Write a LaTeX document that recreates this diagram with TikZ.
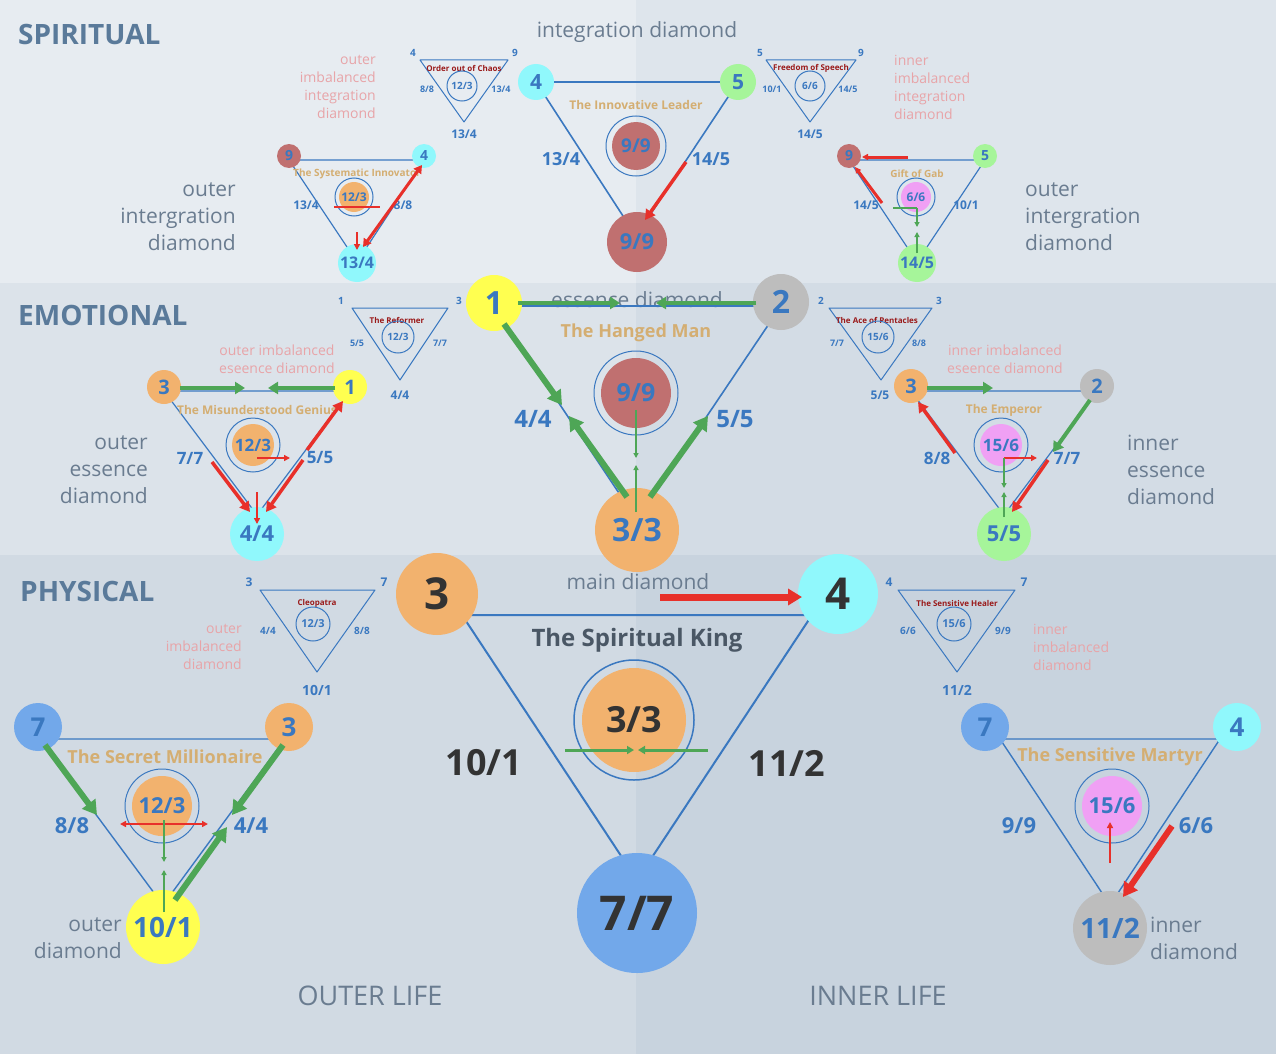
\documentclass[tikz,border=0pt]{standalone}
\usepackage{fontspec}
\setmainfont{Open Sans}
\usetikzlibrary{arrows.meta}
\definecolor{bgsa}{HTML}{E7ECF1}\definecolor{bgsb}{HTML}{DEE5EC}
\definecolor{bgea}{HTML}{DCE3EA}\definecolor{bgeb}{HTML}{D3DCE5}
\definecolor{bgpa}{HTML}{D1DAE3}\definecolor{bgpb}{HTML}{C8D3DE}
\definecolor{bl}{HTML}{3A78C0}\definecolor{tan}{HTML}{D4AE72}
\definecolor{dred}{HTML}{9A1A1A}\definecolor{pk}{HTML}{E8A4A8}
\definecolor{gt}{HTML}{6A7C90}\definecolor{hd}{HTML}{5A7A9A}
\definecolor{cor}{HTML}{F2B26E}\definecolor{ccy}{HTML}{90F8FC}
\definecolor{cgr}{HTML}{A6F59A}\definecolor{crd}{HTML}{C07070}
\definecolor{cye}{HTML}{FFFF50}\definecolor{cgy}{HTML}{BDBDBD}
\definecolor{cbl}{HTML}{72A8EA}\definecolor{cpk}{HTML}{F0A0F4}
\definecolor{ag}{HTML}{4EA656}\definecolor{ar}{HTML}{E8302A}
\newcommand{\fs}[1]{\fontsize{#1}{#1}\selectfont}
\newcommand{\fsl}[2]{\fontsize{#1}{#2}\selectfont}
\tikzset{
 tri/.style={draw=bl,line width=1.6pt,line join=round},
 stri/.style={draw=bl,line width=1pt,line join=round},
 dot/.style={circle,inner sep=0pt,minimum size=#1,text=bl,font=\bfseries},
 ring/.style={circle,draw=bl,line width=1pt,inner sep=0pt,minimum size=#1},
 lab/.style={text=bl,font=\bfseries\fs{#1},inner sep=0pt},
 ttl/.style={text=tan,font=\bfseries\fs{#1},inner sep=0pt},
 stl/.style={text=dred,font=\bfseries\fs{8},inner sep=0pt},
 gtx/.style={text=gt,inner sep=0pt,align=#1,font=\fsl{21}{27}},
 ptx/.style={text=pk,inner sep=0pt,align=#1,font=\fsl{14}{18}},
 head/.style={text=hd,font=\bfseries\fs{28},inner sep=0pt,anchor=west},
 ga/.style={draw=ag,line width=6pt,-{Triangle[length=14pt,width=16pt]}},
 ra/.style={draw=ar,line width=6pt,-{Triangle[length=14pt,width=16pt]}},
 gm/.style={draw=ag,line width=4pt,-{Triangle[length=10pt,width=12pt]}},
 rm/.style={draw=ar,line width=3.5pt,-{Triangle[length=10pt,width=11pt]}},
 gt2/.style={draw=ag,line width=2pt,-{Triangle[length=5pt,width=5pt]}},
 rt2/.style={draw=ar,line width=2pt,-{Triangle[length=6pt,width=6pt]}},
}
\begin{document}
\begin{tikzpicture}[x=1pt,y=-1pt]
\useasboundingbox (0,0) rectangle (1276,1054);
\fill[bgsa] (0,0) rectangle (636,283);\fill[bgsb] (636,0) rectangle (1276,283);
\fill[bgea] (0,283) rectangle (636,555);\fill[bgeb] (636,283) rectangle (1276,555);
\fill[bgpa] (0,555) rectangle (636,1054);\fill[bgpb] (636,555) rectangle (1276,1054);
% headings
\node[head] (hs) at (18,35) {SPIRITUAL};
\node[head] (he) at (18,315) {EMOTIONAL};
\node[head] (hp) at (20,591) {PHYSICAL};
\node[gtx=center] (t1) at (637,32) {integration diamond};
\node[gtx=center] (t2) at (637,300) {essence diamond};
\node[gtx=center] (t3) at (638,582) {main diamond};
\node[gtx=center,font=\fs{27}] (ol) at (370,996) {OUTER LIFE};
\node[gtx=center,font=\fs{27}] (il) at (878,996) {INNER LIFE};
\node[gtx=right,anchor=east] (s1) at (236,217) {outer\\intergration\\diamond};
\node[gtx=left,anchor=west] (s2) at (1025,217) {outer\\intergration\\diamond};
\node[gtx=right,anchor=east] (s3) at (148,470) {outer\\essence\\diamond};
\node[gtx=left,anchor=west] (s4) at (1127,470) {inner\\essence\\diamond};
\node[gtx=right,anchor=east] (s5) at (122,938) {outer\\diamond};
\node[gtx=left,anchor=west] (s6) at (1150,938) {inner\\diamond};
\node[ptx=right,anchor=east] (p1) at (376,87) {outer\\imbalanced\\integration\\diamond};
\node[ptx=left,anchor=west] (p2) at (894,87) {inner\\imbalanced\\integration\\diamond};
\node[ptx=center] (p3) at (277,359) {outer imbalanced\\eseence diamond};
\node[ptx=center] (p4) at (1005,359) {inner imbalanced\\eseence diamond};
\node[ptx=right,anchor=east] (p5) at (242,647) {outer\\imbalanced\\diamond};
\node[ptx=left,anchor=west] (p6) at (1033,647) {inner\\imbalanced\\diamond};
% Order out of Chaos
\draw[stri] (420,60) -- (508,60) -- (464,122) -- cycle;
\node[stl] (oc) at (464,68) {Order out of Chaos};
\node[ring=30pt,lab=10] (oc1) at (462,86) {12/3};
\node[lab=10] (oc2) at (413,53) {4};\node[lab=10] (oc3) at (515,53) {9};
\node[lab=9] (oc4) at (427,89) {8/8};\node[lab=9] (oc5) at (501,89) {13/4};
\node[lab=12] (oc6) at (464,134) {13/4};
% Freedom of Speech
\draw[stri] (766,60) -- (856,60) -- (810,122) -- cycle;
\node[stl] (fs) at (811,68) {Freedom of Speech};
\node[ring=30pt,lab=10] (fs1) at (810,86) {6/6};
\node[lab=10] (fs2) at (760,53) {5};\node[lab=10] (fs3) at (861,53) {9};
\node[lab=9] (fs4) at (772,89) {10/1};\node[lab=9] (fs5) at (848,89) {14/5};
\node[lab=12] (fs6) at (810,134) {14/5};
% The Reformer
\draw[stri] (352,308) -- (448,308) -- (400,380) -- cycle;
\node[stl] (rf) at (397,320) {The Reformer};
\node[ring=32pt,lab=10] (rf1) at (398,337) {12/3};
\node[lab=10] (rf2) at (341,301) {1};\node[lab=10] (rf3) at (459,301) {3};
\node[lab=9] (rf4) at (357,343) {5/5};\node[lab=9] (rf5) at (440,343) {7/7};
\node[lab=12] (rf6) at (400,395) {4/4};
% Ace of Pentacles
\draw[stri] (829,308) -- (932,308) -- (881,380) -- cycle;
\node[stl] (ap) at (877,320) {The Ace of Pentacles};
\node[ring=32pt,lab=10] (ap1) at (878,337) {15/6};
\node[lab=10] (ap2) at (821,301) {2};\node[lab=10] (ap3) at (939,301) {3};
\node[lab=9] (ap4) at (837,343) {7/7};\node[lab=9] (ap5) at (919,343) {8/8};
\node[lab=12] (ap6) at (880,395) {5/5};
% Cleopatra
\draw[stri] (260,590) -- (375,590) -- (317,672) -- cycle;
\node[stl] (cl) at (317,603) {Cleopatra};
\node[ring=34pt,lab=11] (cl1) at (313,624) {12/3};
\node[lab=12] (cl2) at (249,582) {3};\node[lab=12] (cl3) at (384,582) {7};
\node[lab=10] (cl4) at (268,631) {4/4};\node[lab=10] (cl5) at (362,631) {8/8};
\node[lab=14] (cl6) at (317,690) {10/1};
% Sensitive Healer
\draw[stri] (898,590) -- (1015,590) -- (957,672) -- cycle;
\node[stl] (sh) at (957,603) {The Sensitive Healer};
\node[ring=34pt,lab=11] (sh1) at (954,624) {15/6};
\node[lab=12] (sh2) at (889,582) {4};\node[lab=12] (sh3) at (1024,582) {7};
\node[lab=10] (sh4) at (908,631) {6/6};\node[lab=10] (sh5) at (1003,631) {9/9};
\node[lab=14] (sh6) at (957,690) {11/2};
% ---------- main spiritual ----------
\draw[tri] (536,82) -- (738,82) -- (636,236) -- cycle;
\node[ttl=12] (il1) at (636,105) {The Innovative Leader};
\node[ring=60pt] (r1) at (636,146) {};
\node[dot=48pt,fill=crd,font=\bfseries\fs{19}] (c91) at (636,146) {9/9};
\node[dot=36pt,fill=ccy,font=\bfseries\fs{21}] (c4a) at (536,82) {4};
\node[dot=36pt,fill=cgr,font=\bfseries\fs{21}] (c5a) at (738,82) {5};
\node[dot=60pt,fill=crd,font=\bfseries\fs{22}] (c92) at (637,242) {9/9};
\node[lab=18] (l1) at (561,159) {13/4};\node[lab=18] (l2) at (711,159) {14/5};
\draw[rm] (686,162) -- (645,220);
% outer integration
\draw[tri,line width=1.2pt] (289,160) -- (424,160) -- (357,262) -- cycle;
\node[ttl=10] (si) at (357,174) {The Systematic Innovator};
\node[ring=38pt] (r2) at (354,197) {};
\node[dot=30pt,fill=cor,font=\bfseries\fs{12}] (si1) at (354,197) {12/3};
\node[dot=24pt,fill=crd,font=\bfseries\fs{14}] (si2) at (289,156) {9};
\node[dot=24pt,fill=ccy,font=\bfseries\fs{14}] (si3) at (424,156) {4};
\node[dot=38pt,fill=ccy,font=\bfseries\fs{16}] (si4) at (357,263) {13/4};
\node[lab=12] (si5) at (306,205) {13/4};\node[lab=12] (si6) at (403,205) {8/8};
\draw[draw=ar,line width=3pt,{Triangle[length=8pt,width=9pt]}-{Triangle[length=8pt,width=9pt]}] (363,247) -- (422,165);
\draw[rt2] (357,232) -- (357,250);
\draw[draw=ar,line width=1.5pt] (334,207) -- (380,207);
% inner integration
\draw[tri,line width=1.2pt] (849,160) -- (985,160) -- (917,262) -- cycle;
\node[ttl=10] (gg) at (917,174) {Gift of Gab};
\node[ring=38pt] (r3) at (916,197) {};
\node[dot=30pt,fill=cpk,font=\bfseries\fs{12}] (gg1) at (916,197) {6/6};
\node[dot=24pt,fill=crd,font=\bfseries\fs{14}] (gg2) at (849,156) {9};
\node[dot=24pt,fill=cgr,font=\bfseries\fs{14}] (gg3) at (985,156) {5};
\node[dot=38pt,fill=cgr,font=\bfseries\fs{16}] (gg4) at (917,263) {14/5};
\node[lab=12] (gg5) at (866,205) {14/5};\node[lab=12] (gg6) at (966,205) {10/1};
\draw[rt2,line width=3pt] (908,157) -- (862,157);
\draw[rt2,line width=3pt] (882,203) -- (855,167);
\draw[draw=ag,line width=1.5pt] (893,208) -- (917,208);
\draw[gt2,line width=1.5pt] (917,208) -- (917,227);
\draw[gt2,line width=1.5pt] (917,253) -- (917,232);
% ---------- main emotional ----------
\draw[tri] (494,306) -- (781,306) -- (637,520) -- cycle;
\node[ttl=18] (hm) at (636,333) {The Hanged Man};
\node[ring=84pt] (r4) at (636,393) {};
\node[dot=70pt,fill=crd,font=\bfseries\fs{25}] (hm1) at (636,393) {9/9};
\node[dot=56pt,fill=cye,font=\bfseries\fs{32}] (hm2) at (494,303) {1};
\node[dot=56pt,fill=cgy,font=\bfseries\fs{32}] (hm3) at (781,302) {2};
\node[dot=84pt,fill=cor,font=\bfseries\fs{32}] (hm4) at (637,530) {3/3};
\node[lab=24] (hm5) at (533,419) {4/4};\node[lab=24] (hm6) at (735,419) {5/5};
\draw[gm] (518,303) -- (620,303);
\draw[gm] (756,303) -- (656,303);
\draw[ga] (504,324) -- (562,405);
\draw[ga] (627,497) -- (569,416);
\draw[ga] (650,497) -- (708,416);
\draw[gt2] (636,410) -- (636,458);
\draw[gt2] (636,512) -- (636,465);
% outer essence
\draw[tri,line width=1.2pt] (164,391) -- (350,391) -- (257,515) -- cycle;
\node[ttl=12] (mg) at (257,410) {The Misunderstood Genius};
\node[ring=54pt] (r5) at (253,445) {};
\node[dot=42pt,fill=cor,font=\bfseries\fs{17}] (mg1) at (253,445) {12/3};
\node[dot=34pt,fill=cor,font=\bfseries\fs{20}] (mg2) at (164,387) {3};
\node[dot=34pt,fill=cye,font=\bfseries\fs{20}] (mg3) at (350,387) {1};
\node[dot=54pt,fill=ccy,font=\bfseries\fs{22}] (mg4) at (257,534) {4/4};
\node[lab=17] (mg5) at (190,458) {7/7};\node[lab=17] (mg6) at (320,458) {5/5};
\draw[gm] (180,388) -- (245,388);
\draw[gm] (335,388) -- (268,388);
\draw[rm] (212,462) -- (250,512);
\draw[rm] (303,460) -- (266,512);
\draw[rm] (307,450) -- (343,401);
\draw[rt2] (257,492) -- (257,524);
\draw[rt2] (257,458) -- (290,458);
% inner essence
\draw[tri,line width=1.2pt] (911,391) -- (1097,391) -- (1004,515) -- cycle;
\node[ttl=12] (em) at (1004,410) {The Emperor};
\node[ring=54pt] (r6) at (1001,445) {};
\node[dot=42pt,fill=cpk,font=\bfseries\fs{17}] (em1) at (1001,445) {15/6};
\node[dot=34pt,fill=cor,font=\bfseries\fs{20}] (em2) at (911,386) {3};
\node[dot=34pt,fill=cgy,font=\bfseries\fs{20}] (em3) at (1097,386) {2};
\node[dot=54pt,fill=cgr,font=\bfseries\fs{22}] (em4) at (1004,534) {5/5};
\node[lab=17] (em5) at (937,458) {8/8};\node[lab=17] (em6) at (1067,458) {7/7};
\draw[gm] (927,388) -- (993,388);
\draw[rm] (955,453) -- (918,402);
\draw[gm] (1090,400) -- (1053,452);
\draw[rm] (1048,460) -- (1012,512);
\draw[rt2] (1004,458) -- (1037,458);
\draw[gt2] (1004,458) -- (1004,488);
\draw[gt2] (1004,517) -- (1004,492);
% ---------- main physical ----------
\draw[tri,line width=2pt] (462,615) -- (812,615) -- (637,880) -- cycle;
\node[text=gt!70!black,font=\bfseries\fs{24},inner sep=0pt] (sk) at (637,640) {The Spiritual King};
\node[ring=120pt,line width=1.5pt] (r7) at (634,720) {};
\node[dot=104pt,fill=cor,font=\bfseries\fs{36},text=black!80] (sk1) at (634,720) {3/3};
\node[dot=82pt,fill=cor,font=\bfseries\fs{44},text=black!80] (sk2) at (437,594) {3};
\node[dot=80pt,fill=ccy,font=\bfseries\fs{44},text=black!80] (sk3) at (838,594) {4};
\node[dot=120pt,fill=cbl,font=\bfseries\fs{48},text=black!80] (sk4) at (637,913) {7/7};
\node[lab=36,text=black!80] (sk5) at (484,763) {10/1};
\node[lab=36,text=black!80] (sk6) at (787,763) {11/2};
\draw[ra,line width=7pt] (660,597) -- (802,597);
\draw[draw=ag,line width=3pt,-{Triangle[length=7pt,width=8pt]}] (565,750) -- (634,750);
\draw[draw=ag,line width=3pt,-{Triangle[length=7pt,width=8pt]}] (708,750) -- (638,750);
% outer
\draw[tri,line width=1.4pt] (40,739) -- (285,739) -- (163,905) -- cycle;
\node[ttl=18] (sm) at (165,757) {The Secret Millionaire};
\node[ring=74pt] (r8) at (162,806) {};
\node[dot=60pt,fill=cor,font=\bfseries\fs{22}] (sm1) at (162,806) {12/3};
\node[dot=48pt,fill=cbl,font=\bfseries\fs{26}] (sm2) at (38,727) {7};
\node[dot=48pt,fill=cor,font=\bfseries\fs{26}] (sm3) at (289,727) {3};
\node[dot=74pt,fill=cye,font=\bfseries\fs{28}] (sm4) at (163,927) {10/1};
\node[lab=22] (sm5) at (72,826) {8/8};\node[lab=22] (sm6) at (251,826) {4/4};
\draw[ga] (45,745) -- (97,815);
\draw[ga] (283,745) -- (232,815);
\draw[ga] (175,900) -- (227,827);
\draw[draw=ar,line width=2pt,{Triangle[length=6pt,width=6pt]}-{Triangle[length=6pt,width=6pt]}] (120,824) -- (208,824);
\draw[gt2] (164,820) -- (164,862);
\draw[gt2] (164,912) -- (164,870);
% inner
\draw[tri,line width=1.4pt] (1000,739) -- (1220,739) -- (1110,905) -- cycle;
\node[ttl=18] (sm7) at (1110,757) {The Sensitive Martyr};
\node[ring=74pt] (r9) at (1112,806) {};
\node[dot=60pt,fill=cpk,font=\bfseries\fs{22}] (sm8) at (1112,806) {15/6};
\node[dot=48pt,fill=cbl,font=\bfseries\fs{26}] (sm9) at (985,727) {7};
\node[dot=48pt,fill=ccy,font=\bfseries\fs{26}] (sm10) at (1237,727) {4};
\node[dot=74pt,fill=cgy,font=\bfseries\fs{28}] (sm11) at (1110,928) {11/2};
\node[lab=22] (sm12) at (1019,826) {9/9};\node[lab=22] (sm13) at (1196,826) {6/6};
\draw[ra] (1172,826) -- (1123,897);
\draw[rt2,line width=2.5pt] (1110,863) -- (1110,822);
\end{tikzpicture}
\end{document}
